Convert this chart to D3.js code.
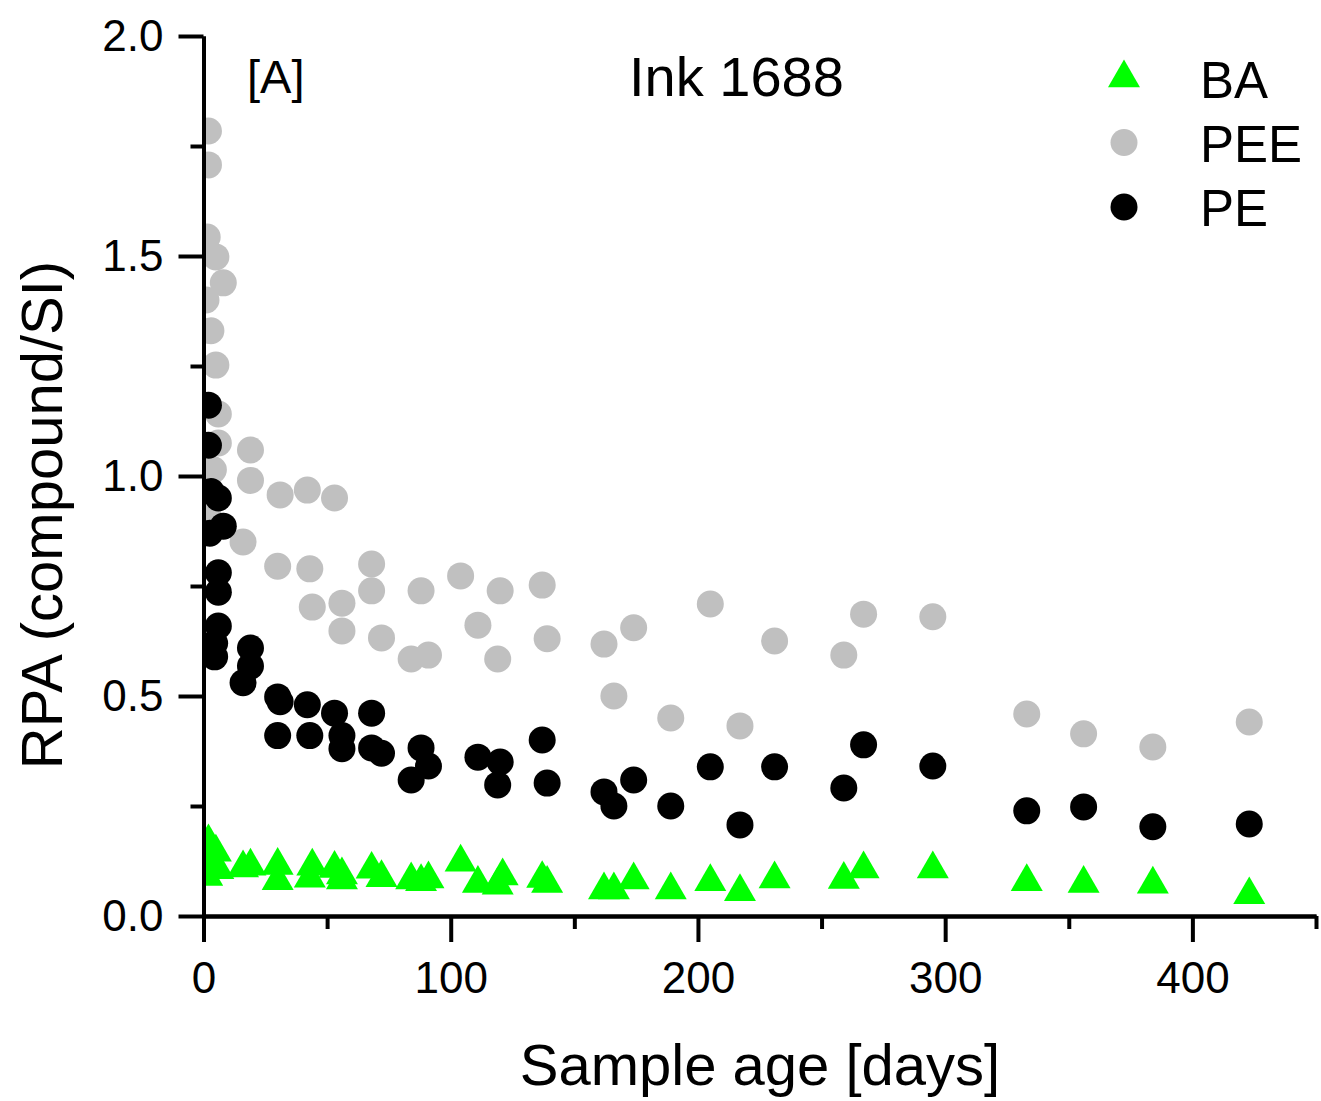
<!DOCTYPE html>
<html>
<head>
<meta charset="utf-8">
<script src="https://cdn.jsdelivr.net/npm/d3@7"></script>
<style>
    body { margin: 0; background: #fff; }
    svg { display: block; font-family: "Liberation Sans", Arial, sans-serif; }
</style>
</head>
<body>
<div id="chart"></div>
<script>
// BA (triangles)
const baDays = [2, 5, 3, 1.5, 6, 16, 19, 30, 30, 44, 43, 53, 56, 56, 68, 72, 84, 88, 91,
    104, 111, 121, 119, 137, 139, 162, 166, 174, 189, 205, 217, 231, 259, 267, 295, 333, 356, 384, 423];
const baValues = [0.168, 0.145, 0.12, 0.09, 0.105, 0.109, 0.113, 0.115, 0.08, 0.113, 0.086, 0.108, 0.093, 0.082,
    0.106, 0.087, 0.082, 0.078, 0.084, 0.122, 0.074, 0.091, 0.07, 0.085, 0.074, 0.059, 0.059, 0.082, 0.059,
    0.078, 0.055, 0.084, 0.083, 0.107, 0.107, 0.078, 0.074, 0.072, 0.048];

// PEE (grey dots)
const peeDays = [2, 2, 1.5, 5, 8, 1, 3, 5, 6, 6, 4, 2, 19, 19, 16, 31, 42, 53, 30, 43, 44, 56, 56, 68, 68, 72,
    84, 88, 91, 104, 111, 120, 119, 137, 139, 162, 166, 174, 189, 205, 217, 231, 259, 267, 295, 333, 356, 384, 423];
const peeValues = [1.784, 1.707, 1.543, 1.498, 1.439, 1.40, 1.33, 1.252, 1.141, 1.075, 1.014, 0.907, 1.059, 0.99,
    0.85, 0.957, 0.968, 0.95, 0.795, 0.789, 0.702, 0.711, 0.648, 0.80, 0.739, 0.632, 0.584, 0.739, 0.593, 0.773,
    0.661, 0.739, 0.584, 0.752, 0.63, 0.618, 0.50, 0.655, 0.45, 0.709, 0.432, 0.625, 0.593, 0.686, 0.68, 0.459,
    0.414, 0.384, 0.441];

// PE (black dots)
const peDays = [2, 2, 3, 6, 8, 2.5, 6, 6, 6, 4.5, 4.5, 19, 19, 16, 30, 31, 30, 42, 43, 53, 56, 56, 68, 68, 72,
    84, 88, 91, 111, 120, 119, 137, 139, 162, 166, 174, 189, 205, 217, 231, 259, 267, 295, 333, 356, 384, 423];
const peValues = [1.161, 1.07, 0.965, 0.95, 0.886, 0.87, 0.78, 0.736, 0.659, 0.62, 0.589, 0.609, 0.568, 0.53,
    0.498, 0.487, 0.41, 0.48, 0.41, 0.461, 0.41, 0.38, 0.461, 0.382, 0.37, 0.309, 0.382, 0.341, 0.361, 0.35,
    0.298, 0.40, 0.302, 0.282, 0.25, 0.309, 0.25, 0.339, 0.207, 0.339, 0.291, 0.389, 0.341, 0.239, 0.248,
    0.203, 0.209];

const seriesNames = ['BA', 'PEE', 'PE'];
const seriesColors = ['#00ff00', '#c0c0c0', '#000000'];

const xTicks = [0, 100, 200, 300, 400];
const xMinorTicks = [50, 150, 250, 350, 450];
const yTicks = [0, 0.5, 1.0, 1.5, 2.0];
const yMinorTicks = [0.25, 0.75, 1.25, 1.75];

const width = 1321;
const height = 1101;
const margins = { top: 36, right: 5, bottom: 185, left: 203.5 };
const plotW = width - margins.left - margins.right;
const plotH = height - margins.top - margins.bottom;

const triangle = d3.symbol().type(d3.symbolTriangle).size(443);
const dotR = 13.5;

function zip (days, values) {
    return days.map((d, i) => ({ day: d, value: values[i] }));
}

function renderAxes (g, x, y) {
    // minor ticks first, major ticks with labels on top
    g.append('g')
        .attr('transform', `translate(0,${plotH})`)
        .call(d3.axisBottom(x).tickValues(xMinorTicks).tickSize(13).tickSizeOuter(0).tickFormat(''));
    g.append('g')
        .attr('transform', `translate(0,${plotH})`)
        .call(d3.axisBottom(x).tickValues(xTicks).tickSize(26).tickSizeOuter(0).tickFormat(d3.format('d')))
        .call(a => a.selectAll('text').attr('y', 46));

    g.append('g')
        .call(d3.axisLeft(y).tickValues(yMinorTicks).tickSize(13).tickSizeOuter(0).tickFormat(''));
    g.append('g')
        .call(d3.axisLeft(y).tickValues(yTicks).tickSize(25).tickSizeOuter(0).tickFormat(d3.format('.1f')))
        .call(a => a.selectAll('text').attr('x', -40));

    g.selectAll('.domain, .tick line')
        .attr('stroke', '#000')
        .attr('stroke-width', 4);
    g.selectAll('.tick text')
        .attr('fill', '#000')
        .style('font-size', '44px')
        .style('font-family', '"Liberation Sans", Arial, sans-serif');
}

function renderPoints (g, x, y) {
    const body = g.append('g').attr('clip-path', 'url(#plot-clip)');

    body.selectAll('path.ba')
        .data(zip(baDays, baValues))
        .enter()
        .append('path')
        .attr('class', 'ba')
        .attr('d', triangle)
        .attr('transform', d => `translate(${x(d.day)},${y(d.value)})`)
        .attr('fill', seriesColors[0]);

    [[peeDays, peeValues, 1], [peDays, peValues, 2]].forEach(([days, values, i]) => {
        body.selectAll(`circle._${i}`)
            .data(zip(days, values))
            .enter()
            .append('circle')
            .attr('class', `_${i}`)
            .attr('cx', d => x(d.day))
            .attr('cy', d => y(d.value))
            .attr('r', dotR)
            .attr('fill', seriesColors[i]);
    });
}

function renderLabels (svg) {
    svg.append('text')
        .attr('x', 247).attr('y', 93)
        .style('font-size', '47px')
        .text('[A]');

    svg.append('text')
        .attr('x', 629).attr('y', 96)
        .style('font-size', '56px')
        .text('Ink 1688');

    // legend
    const legend = svg.append('g');
    seriesNames.forEach((name, i) => {
        const cy = 78 + i * 64.5;
        if (i === 0) {
            legend.append('path')
                .attr('d', triangle)
                .attr('transform', `translate(1124,${cy})`)
                .attr('fill', seriesColors[i]);
        } else {
            legend.append('circle')
                .attr('cx', 1124).attr('cy', cy)
                .attr('r', dotR)
                .attr('fill', seriesColors[i]);
        }
        legend.append('text')
            .attr('x', 1200).attr('y', 98 + i * 64)
            .style('font-size', '51px')
            .text(name);
    });

    svg.append('text')
        .attr('x', 760).attr('y', 1085)
        .attr('text-anchor', 'middle')
        .style('font-size', '58px')
        .text('Sample age [days]');

    svg.append('text')
        .attr('transform', 'translate(62,515) rotate(-90)')
        .attr('text-anchor', 'middle')
        .style('font-size', '58px')
        .text('RPA (compound/SI)');
}

function scatterplot (el) {
    const svg = d3.select(el).append('svg')
        .attr('width', width)
        .attr('height', height);

    svg.append('defs').append('clipPath')
        .attr('id', 'plot-clip')
        .append('rect')
        .attr('x', 0).attr('y', 0)
        .attr('width', plotW).attr('height', plotH);

    const x = d3.scaleLinear().domain([0, 450]).range([0, plotW]);
    const y = d3.scaleLinear().domain([0, 2]).range([plotH, 0]);

    const g = svg.append('g')
        .attr('transform', `translate(${margins.left},${margins.top})`);

    renderPoints(g, x, y);
    renderAxes(g, x, y);
    renderLabels(svg);
}

scatterplot(document.getElementById('chart'));
</script>
</body>
</html>
